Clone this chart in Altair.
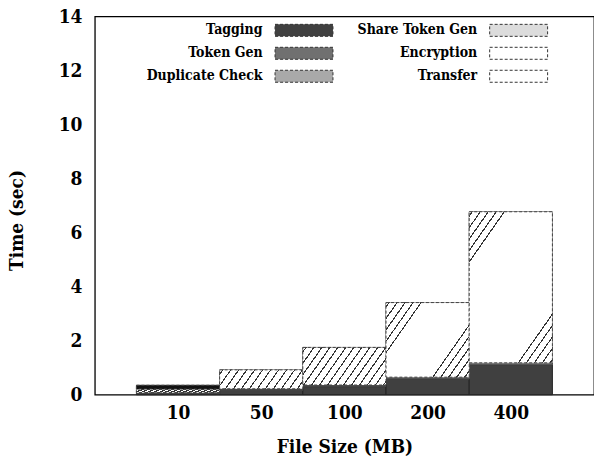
import math
import altair as alt
import pandas as pd

# ---- data ----
sizes = ["10", "50", "100", "200", "400"]
series = ["Tagging", "Token Gen", "Duplicate Check", "Share Token Gen", "Encryption", "Transfer"]
series_colors = ["#404040", "#707070", "#a9a9a9", "#dcdcdc", "#ffffff", "#ffffff"]
tagging = [0.04, 0.17, 0.30, 0.58, 1.10]
token_gen = [0.01, 0.01, 0.01, 0.01, 0.01]
dup_check = [0.01, 0.01, 0.01, 0.01, 0.01]
share_token = [0.01, 0.01, 0.01, 0.01, 0.01]
encryption = [0.14, 0.02, 0.03, 0.04, 0.05]
transfer = [0.14, 0.70, 1.39, 2.76, 5.59]

values = [tagging, token_gen, dup_check, share_token, encryption, transfer]
rows = []
for si, (name, vals) in enumerate(zip(series, values)):
    for i, v in enumerate(vals):
        rows.append({"idx": i, "series": name, "order": si, "value": v})
df = pd.DataFrame(rows)

label_expr = "[" + ",".join("'%s'" % s for s in sizes) + "][datum.value]"

FONT = "DejaVu Serif Condensed, DejaVu Serif, serif"

PLOT_W, PLOT_H, YMAX = 500, 379, 14


# diagonal hatch drawn as a striped linear gradient (style only); w,h in pixels
def hatch(w, h, corner=None, theta=55, gap=8.0, lw=1.1, color="#333333"):
    th = math.radians(theta)
    a, b = w * math.sin(th), h * math.cos(th)
    pmax = a + b
    L = (a * a + b * b) / (a + b)
    step = gap * math.sin(th)
    stops = [{"offset": 0, "color": "white"}]
    p = 2.0
    while p + lw < pmax:
        ok = corner is None or p <= corner or p >= pmax - corner
        if ok:
            t0, t1 = round(p / pmax, 4), round((p + lw) / pmax, 4)
            stops += [{"offset": t0, "color": "white"}, {"offset": t0, "color": color},
                      {"offset": t1, "color": color}, {"offset": t1, "color": "white"}]
        p += step
    stops.append({"offset": 1, "color": "white"})
    return {"gradient": "linear", "x1": 0, "y1": 0,
            "x2": round(a / L, 4), "y2": round(b / L, 4), "stops": stops}


bw = PLOT_W / 6
px = PLOT_H / YMAX
hatch_enc10 = hatch(bw, encryption[0] * px, theta=20, gap=6)
hatch_50 = hatch(bw, transfer[1] * px)
hatch_100 = hatch(bw, transfer[2] * px)
hatch_200 = hatch(bw, transfer[3] * px, corner=32)
hatch_400 = hatch(bw, transfer[4] * px, corner=32)

base = (
    alt.Chart(df)
    .transform_stack(stack="value", as_=["y0", "y1"], groupby=["idx"],
                     sort=[alt.SortField("order", order="ascending")])
    .transform_calculate(xl="datum.idx - 0.5", xr="datum.idx + 0.5")
)

x_enc = alt.X("xl:Q", scale=alt.Scale(domain=[-1, 5], nice=False, zero=False),
              axis=alt.Axis(values=[0, 1, 2, 3, 4], labelExpr=label_expr,
                            title="File Size (MB)", titleY=52, titleBaseline="middle",
                            labelPadding=9))
y_enc = alt.Y("y0:Q", scale=alt.Scale(domain=[0, YMAX], nice=False),
              axis=alt.Axis(values=list(range(0, 15, 2)), title="Time (sec)",
                            titleX=-78, titleY=204, titleBaseline="middle",
                            labelPadding=13))
dash_enc = alt.StrokeDash("series:N",
                          scale=alt.Scale(domain=series,
                                          range=[[1, 0], [3, 2], [3, 2], [3, 2], [3, 2], [3, 2]]),
                          legend=None)

bars = base.mark_rect(strokeWidth=1).encode(
    x=x_enc, x2="xr:Q", y=y_enc, y2="y1:Q",
    fill=alt.Fill("series:N", scale=alt.Scale(domain=series, range=series_colors),
                  legend=alt.Legend(title=None, orient="none", legendX=154, legendY=7,
                                    columns=2, columnPadding=22, rowPadding=7,
                                    symbolType="M3.25,-1H12.92V1H3.25Z", symbolSize=144,
                                    symbolOffset=0, symbolStrokeColor="#333333",
                                    symbolStrokeWidth=1, symbolDash=[3, 2],
                                    symbolOpacity=1,
                                    labelAlign="right", labelOffset=0,
                                    labelFont=FONT, labelFontWeight="bold",
                                    labelFontSize=14, labelColor="black")),
    stroke=alt.condition(alt.datum.series == "Tagging", alt.value("#222222"), alt.value("#444444")),
    strokeDash=dash_enc,
    order=alt.Order("order:Q"),
)

hatched = (
    base.transform_filter("datum.series == 'Transfer' || (datum.series == 'Encryption' && datum.idx == 0)")
    .mark_rect(strokeWidth=1, stroke="#444444", strokeDash=[3, 2])
    .encode(
        x=x_enc, x2="xr:Q", y=y_enc, y2="y1:Q",
        fill=alt.FillValue(hatch_400, condition=[
            {"test": "datum.series == 'Encryption'", "value": hatch_enc10},
            {"test": "datum.idx == 0", "value": "#111111"},
            {"test": "datum.idx == 1", "value": hatch_50},
            {"test": "datum.idx == 2", "value": hatch_100},
            {"test": "datum.idx == 3", "value": hatch_200},
        ]),
    )
)

chart = (
    alt.layer(bars, hatched)
    .properties(width=PLOT_W, height=PLOT_H, background="white",
                autosize=alt.AutoSizeParams(type="none"),
                padding={"left": 95, "top": 16, "right": 0, "bottom": 68})
    .configure_view(stroke="black", strokeWidth=1.3)
    .configure_axis(labelFont=FONT, labelFontWeight="bold", labelFontSize=19, labelColor="black",
                    titleFont=FONT, titleFontWeight="bold", titleFontSize=19, titleColor="black",
                    ticks=False, domain=False, grid=False)
)

chart.save("out.html", embed_options={"renderer": "svg", "actions": False})
